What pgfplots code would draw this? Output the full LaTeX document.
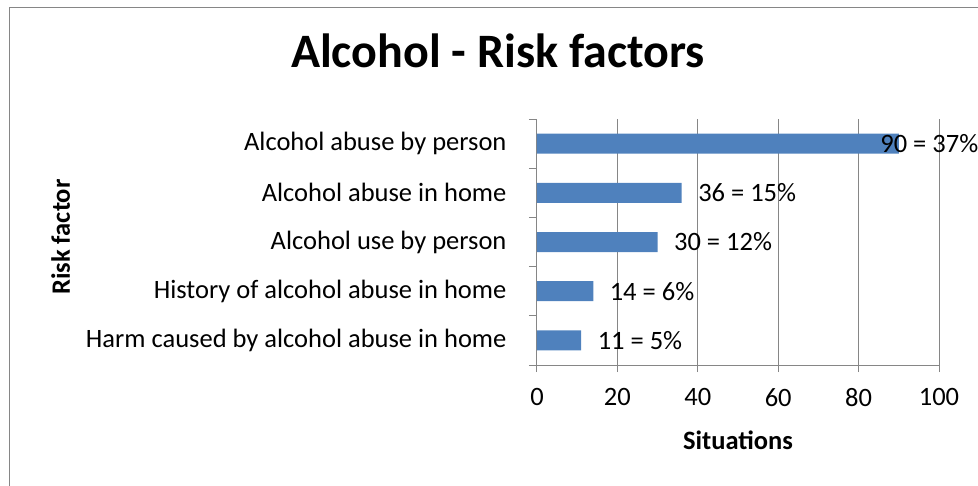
\documentclass[border=0pt]{standalone}
\usepackage{pgfplots}
\pgfplotsset{compat=1.18}
\usepackage{fontspec}
\setmainfont{Carlito}
\definecolor{barblue}{HTML}{4F81BD}
\definecolor{gridgray}{HTML}{868686}
\begin{document}
\begin{tikzpicture}[x=1pt,y=1pt]
\useasboundingbox (0,0) rectangle (978,485);
\draw[gridgray, line width=1.2pt] (9.5,-5) -- (9.5,477.5) -- (985,477.5);
\begin{axis}[
  at={(537pt,120pt)}, anchor=south west,
  scale only axis, width=402pt, height=246pt,
  xmin=0, xmax=100, ymin=-0.5, ymax=4.5,
  xtick={0,20,...,100},
  ytick={0,...,4},
  yticklabels={Harm caused by alcohol abuse in home, History of alcohol abuse in home, Alcohol use by person, Alcohol abuse in home, Alcohol abuse by person},
  minor ytick={-0.5,0.5,...,4.5},
  axis lines*=left,
  axis line style={gridgray, line width=1pt, -},
  tick align=outside,
  major tick length=7pt, minor tick length=8pt,
  major x tick style={gridgray, line width=1pt},
  major y tick style={draw=none},
  minor y tick style={draw=gridgray, line width=1pt},
  xmajorgrids, major x grid style={gridgray, line width=1pt},
  /pgf/number format/assume math mode=true,
  tick label style={font=\fontsize{26.5}{31}\selectfont},
  yticklabel style={xshift=-20pt},
  xticklabel style={yshift=-13pt},
  xlabel={Situations},
  xlabel style={font=\fontsize{26.5}{31}\selectfont\bfseries, at={(axis description cs:0.5,-0.305)}, anchor=center},
  ylabel={Risk factor},
  ylabel style={font=\fontsize{26.5}{31}\selectfont\bfseries, at={(axis description cs:-1.185,0.52)}, anchor=center},
  title={Alcohol - Risk factors},
  title style={font=\fontsize{48}{56}\selectfont\bfseries, at={(axis description cs:-0.097,1.183)}, anchor=base},
  clip=false,
]
\addplot[xbar, fill=barblue, draw=none, bar width=20pt,
  nodes near coords, point meta=explicit symbolic,
  visualization depends on={\thisrow{s} \as \myshift},
  every node near coord/.append style={font=\fontsize{26.5}{31}\selectfont, anchor=west, xshift=\myshift pt, text=black}]
  table[x=v, y=y, meta=lab, col sep=comma]{
y,v,s,lab
4,90,-22,90 = 37\%
3,36,13,36 = 15\%
2,30,13,30 = 12\%
1,14,13,14 = 6\%
0,11,13,11 = 5\%
};
\end{axis}
\end{tikzpicture}
\end{document}
